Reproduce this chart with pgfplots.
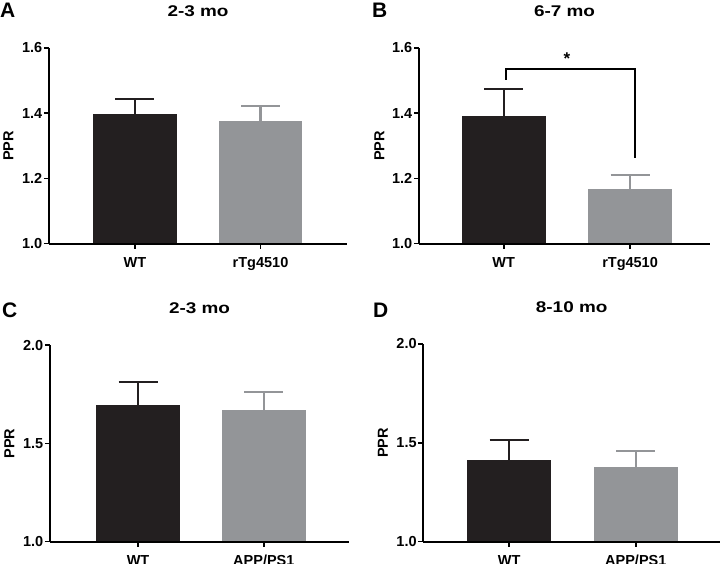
\documentclass[border=0pt]{standalone}
\usepackage{fontspec}
\setmainfont{Liberation Sans}
\usepackage{graphicx}
\usepackage{pgfplots}
\pgfplotsset{compat=1.18}
\definecolor{barblack}{HTML}{231F20}
\definecolor{bargray}{HTML}{939598}
\newcommand{\tfont}{\fontsize{15.5bp}{18bp}\selectfont\bfseries}
\newcommand{\lfont}{\fontsize{14.5bp}{16bp}\selectfont\bfseries}
\pgfplotsset{
  panel/.style={
    scale only axis, axis on top,
    axis x line=bottom, axis y line=left,
    axis line style={-, line width=2.2bp, black},
    tick align=outside, major tick length=5bp,
    tick style={line width=1.6bp, black},
    xtick={0,1},
    ymin=1.0,
    ylabel={PPR},
    ylabel style={at={(axis description cs:-0.136,0.5)}, anchor=center, font=\lfont},
    title style={at={(axis description cs:0.5,1)}, anchor=center, yshift=31bp, font=\tfont},
    tick label style={font=\lfont},
    yticklabel style={inner sep=1.5bp, /pgf/number format/.cd, fixed, fixed zerofill, precision=1, assume math mode=true},
    xticklabel style={yshift=-5bp},
  },
  blackbar/.style={ybar, bar width=0.667, bar shift=0pt, fill=barblack, draw=none,
    error bars/.cd, y dir=plus, y explicit,
    error bar style={line width=2.2bp, barblack},
    error mark options={rotate=90, mark size=19.5bp, line width=2.2bp, barblack}},
  graybar/.style={ybar, bar width=0.667, bar shift=0pt, fill=bargray, draw=none,
    error bars/.cd, y dir=plus, y explicit,
    error bar style={line width=2.2bp, bargray},
    error mark options={rotate=90, mark size=19.5bp, line width=2.2bp, bargray}},
}
\begin{document}
\begin{tikzpicture}[x=1bp,y=1bp]
\useasboundingbox (0,0) rectangle (721,564);
% Panel A
\begin{axis}[panel, at={(49bp,320.3bp)}, anchor=south west,
  width=298bp, height=195.7bp, xmin=-0.685, xmax=1.689,
  ymax=1.6, ytick={1.0,1.2,1.4,1.6}, xticklabels={WT,rTg4510}, title={\scalebox{1.22}[1]{2-3 mo}}]
\addplot[blackbar] coordinates {(0,1.399) +- (0,0.045)};
\addplot[graybar] coordinates {(1,1.375) +- (0,0.046)};
\end{axis}
% Panel B
\begin{axis}[panel, at={(419bp,320.3bp)}, anchor=south west,
  width=291bp, height=195.7bp, xmin=-0.671, xmax=1.633,
  ymax=1.6, ytick={1.0,1.2,1.4,1.6}, xticklabels={WT,rTg4510}, title={\scalebox{1.22}[1]{6-7 mo}}]
\addplot[blackbar] coordinates {(0,1.393) +- (0,0.082)};
\addplot[graybar] coordinates {(1,1.167) +- (0,0.043)};
\addplot[black, line width=2.2bp, mark=none] coordinates {(0.018,1.502) (0.018,1.535) (1.04,1.535) (1.04,1.262)};
\node[font=\fontsize{17bp}{18bp}\selectfont\bfseries] at (axis cs:0.5,1.566) {*};
\end{axis}
% Panel C
\begin{axis}[panel, at={(50bp,22.3bp)}, anchor=south west,
  width=299bp, height=196.4bp, xmin=-0.70, xmax=1.677,
  ymax=2.0, ytick={1.0,1.5,2.0}, xticklabels={WT,APP/PS1}, title={\scalebox{1.22}[1]{2-3 mo}}]
\addplot[blackbar] coordinates {(0,1.696) +- (0,0.116)};
\addplot[graybar] coordinates {(1,1.669) +- (0,0.095)};
\end{axis}
% Panel D
\begin{axis}[panel, at={(423.3bp,22.3bp)}, anchor=south west,
  width=296.7bp, height=197.7bp, xmin=-0.678, xmax=1.665,
  ymax=2.0, ytick={1.0,1.5,2.0}, xticklabels={WT,APP/PS1}, title={\scalebox{1.22}[1]{8-10 mo}}]
\addplot[blackbar] coordinates {(0,1.413) +- (0,0.101)};
\addplot[graybar] coordinates {(1,1.379) +- (0,0.078)};
\end{axis}
\node[anchor=north west, inner sep=0pt, font=\fontsize{21bp}{22bp}\selectfont\bfseries] at (0,561) {A};
\node[anchor=north west, inner sep=0pt, font=\fontsize{21bp}{22bp}\selectfont\bfseries] at (372,561) {B};
\node[anchor=north west, inner sep=0pt, font=\fontsize{21bp}{22bp}\selectfont\bfseries] at (2,261) {C};
\node[anchor=north west, inner sep=0pt, font=\fontsize{21bp}{22bp}\selectfont\bfseries] at (373,261) {D};
\end{tikzpicture}
\end{document}
